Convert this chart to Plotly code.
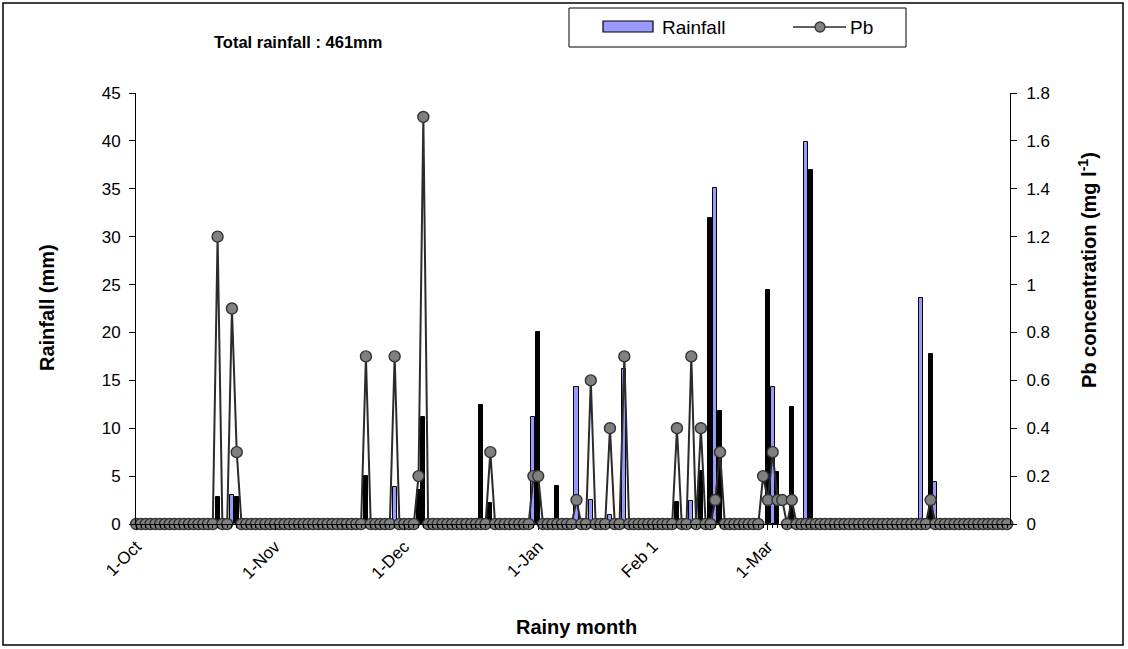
import numpy as np
import plotly.graph_objects as go

# Number of daily records in the season (day 0 = first record)
n_days = 183

# Rainfall (mm) on the days it rained
rain_day = [17, 20, 21, 48, 54, 59, 60, 72, 74, 83,
            84, 88, 92, 95, 99, 102, 113, 116, 118, 120,
            121, 122, 132, 133, 134, 137, 140, 141, 164, 166,
            167]
rain_mm = [2.8, 3.0, 2.8, 5.0, 3.9, 3.5, 11.2, 12.4, 2.2, 11.2,
           20.0, 4.0, 14.3, 2.5, 0.9, 16.2, 2.3, 2.4, 5.5, 31.9,
           35.1, 11.8, 24.4, 14.3, 5.4, 12.2, 39.9, 37.0, 23.6, 17.8,
           4.4]

# Pb concentration (mg/l) on the days it was detected; all other days read 0
pb_day = [17, 20, 21, 48, 54, 59, 60, 74, 83, 84,
          92, 95, 99, 102, 113, 116, 118, 121, 122, 131,
          132, 133, 134, 135, 137, 166]
pb_mgl = [1.2, 0.9, 0.3, 0.7, 0.7, 0.2, 1.7, 0.3, 0.2, 0.2,
          0.1, 0.6, 0.4, 0.7, 0.4, 0.7, 0.4, 0.1, 0.3, 0.2,
          0.1, 0.3, 0.1, 0.1, 0.1, 0.1]

# Category labels along the time axis
month_day = [0, 29, 56, 84, 108, 132]
month_labels = ["1-Oct", "1-Nov", "1-Dec", "1-Jan", "Feb 1", "1-Mar"]

# Bar fills: narrow bars render as solid black, wider ones show the blue fill
BLUE, BLACK = "#9999FF", "#000000"
rain_fill = [BLACK, BLUE, BLACK, BLACK, BLUE, BLACK, BLACK, BLACK, BLACK, BLUE,
             BLACK, BLACK, BLUE, BLUE, BLUE, BLUE, BLACK, BLUE, BLACK, BLACK,
             BLUE, BLACK, BLACK, BLUE, BLACK, BLACK, BLUE, BLACK, BLUE, BLACK,
             BLUE]

days = np.arange(n_days)
pb_all = np.zeros(n_days)
pb_all[pb_day] = pb_mgl

FONT = "Liberation Sans, Arial, sans-serif"

# Pixel geometry of the plotting area inside the 1128x649 page
W, H = 1128, 649
L, R, T, B = 136, 1010, 93, 524


def px(x):
    return (x - L) / (R - L)


def py(y):
    return (B - y) / (B - T)


fig = go.Figure()

fig.add_trace(go.Bar(
    x=rain_day, y=rain_mm, name="Rainfall",
    width=0.85,
    marker=dict(color=rain_fill, line=dict(color="black", width=1)),
    yaxis="y", showlegend=False,
))

fig.add_trace(go.Scatter(
    x=days, y=pb_all, name="Pb", mode="lines+markers",
    line=dict(color="#2b2b2b", width=2),
    marker=dict(symbol="circle", size=11, color="#808080",
                line=dict(color="#333333", width=1.4)),
    yaxis="y2", showlegend=False, cliponaxis=False,
))

fig.update_layout(
    width=W, height=H,
    margin=dict(l=L, r=W - R, t=T, b=H - B, pad=0),
    paper_bgcolor="white", plot_bgcolor="white",
    font=dict(family=FONT, size=17, color="black"),
    bargap=0,
    xaxis=dict(
        range=[-0.05, n_days - 1 + 0.6],
        tickmode="array", tickvals=month_day, ticktext=month_labels,
        tickangle=-45, ticks="outside", ticklen=5, tickcolor="black",
        showline=True, linecolor="black", linewidth=1,
        showgrid=False, zeroline=False,
        minor=dict(dtick=1, tick0=0, ticks="outside", ticklen=3,
                   tickcolor="black", showgrid=False),
        tickfont=dict(size=17),
    ),
    yaxis=dict(
        range=[0, 45], dtick=5, tick0=0,
        ticks="outside", ticklen=6, tickcolor="black",
        showline=True, linecolor="black", linewidth=1,
        showgrid=False, zeroline=False, tickfont=dict(size=17),
        ticklabelstandoff=5,
    ),
    yaxis2=dict(
        range=[0, 1.8], dtick=0.2, tick0=0, overlaying="y", side="right",
        ticks="outside", ticklen=6, tickcolor="black",
        showline=True, linecolor="black", linewidth=1,
        showgrid=False, zeroline=False, tickfont=dict(size=17),
        ticklabelstandoff=6,
    ),
)

shapes = []
annotations = []

# Outer frame of the chart
shapes.append(dict(type="rect", xref="paper", yref="paper",
                   x0=px(3), x1=px(1123), y0=py(645), y1=py(3),
                   line=dict(color="black", width=1.5), fillcolor="rgba(0,0,0,0)"))

# Legend box with its two entries
shapes.append(dict(type="rect", xref="paper", yref="paper",
                   x0=px(569), x1=px(906), y0=py(47), y1=py(8),
                   line=dict(color="black", width=1), fillcolor="white"))
shapes.append(dict(type="rect", xref="paper", yref="paper",
                   x0=px(603), x1=px(653), y0=py(32), y1=py(21),
                   line=dict(color="black", width=1.2), fillcolor=BLUE))
shapes.append(dict(type="line", xref="paper", yref="paper",
                   x0=px(793), x1=px(846), y0=py(27), y1=py(27),
                   line=dict(color="#2b2b2b", width=1.5)))
shapes.append(dict(type="circle", xref="paper", yref="paper",
                   x0=px(815), x1=px(825), y0=py(32), y1=py(22),
                   line=dict(color="#333333", width=1.3), fillcolor="#808080"))
annotations.append(dict(text="Rainfall", xref="paper", yref="paper",
                        x=px(660), y=py(27), xanchor="left", yanchor="middle",
                        showarrow=False, font=dict(size=19)))
annotations.append(dict(text="Pb", xref="paper", yref="paper",
                        x=px(848), y=py(27), xanchor="left", yanchor="middle",
                        showarrow=False, font=dict(size=19)))

# Total rainfall note
annotations.append(dict(text="<b>Total rainfall : 461mm</b>", xref="paper", yref="paper",
                        x=px(298), y=py(42), xanchor="center", yanchor="middle",
                        showarrow=False, font=dict(size=16.5)))

# Axis titles
annotations.append(dict(text="<b>Rainfall (mm)</b>", xref="paper", yref="paper",
                        x=px(47), y=py(308), xanchor="center", yanchor="middle",
                        textangle=-90, showarrow=False, font=dict(size=20)))
annotations.append(dict(text="<b>Pb concentration (mg l<sup>-1</sup>)</b>", xref="paper", yref="paper",
                        x=px(1087), y=py(270), xanchor="center", yanchor="middle",
                        textangle=-90, showarrow=False, font=dict(size=20)))
annotations.append(dict(text="<b>Rainy month</b>", xref="paper", yref="paper",
                        x=px(576), y=py(627), xanchor="center", yanchor="middle",
                        showarrow=False, font=dict(size=20)))

fig.update_layout(shapes=shapes, annotations=annotations)

fig.write_html("out.html")
